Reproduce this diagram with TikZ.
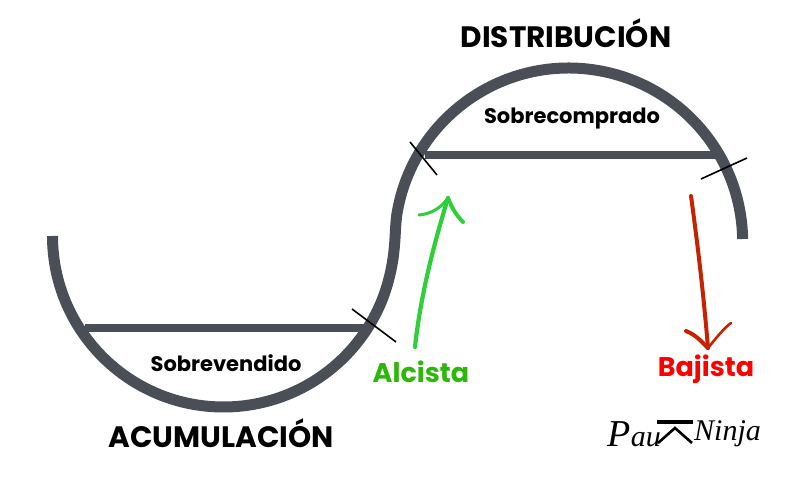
\documentclass[tikz,border=0pt]{standalone}
\usepackage{fontspec}
\setmainfont{Poppins}
\newfontfamily\logofont{Liberation Serif}
\definecolor{slatec}{HTML}{4A4F57}
\definecolor{upg}{HTML}{2FCF3A}
\definecolor{upl}{HTML}{2DB70A}
\definecolor{dnr}{HTML}{C42200}
\tikzset{
  wave/.style={draw=slatec,line width=11pt},
  bar/.style={draw=slatec,line width=8.5pt},
  tick/.style={draw=black,line width=1.6pt},
  upa/.style={draw=upg,line width=4.2pt,line cap=round,line join=round},
  dna/.style={draw=dnr,line width=4pt,line cap=round,line join=round},
  big/.style={font=\fontsize{29.5}{34}\selectfont\bfseries,text=black,inner sep=0pt},
  mid/.style={font=\fontsize{21}{25}\selectfont\bfseries,text=black,inner sep=0pt},
  sig/.style={font=\fontsize{27}{32}\selectfont\bfseries,inner sep=0pt},
  logot/.style={font=\logofont\itshape\fontsize{30}{32}\selectfont,text=black,inner sep=0pt}
}
\begin{document}
\begin{tikzpicture}[x=1pt,y=1pt]
\useasboundingbox (0,0) rectangle (800,478);
% y_tikz = 478 - y_image
\draw[bar] (85,150) -- (366,150);
\draw[bar] (425,323) -- (722,323);
\draw[wave] (52.5,242) arc[start angle=180,end angle=340,radius=171]
  .. controls (397,221) and (394,243) .. (396.8,263.2)
  arc[start angle=171,end angle=1,radius=174];
\draw[tick] (352,169) -- (396,136);
\draw[tick] (410,336) -- (437,303);
\draw[tick] (701,299) -- (747,320);
\coordinate (ua) at (415,131);
\coordinate (ub) at (448,280);
\draw[upa] (ua) .. controls (420,178) and (432,228) .. (ub);
\draw[upa,line width=3pt] (419,263) .. controls (431,264) and (441,270) .. (ub);
\draw[upa,line width=4pt] (ub) .. controls (452,270) and (456,263) .. (463,256);
\coordinate (da) at (691,282);
\coordinate (db) at (708,130);
\draw[dna] (da) .. controls (697,238) and (703,190) .. (db);
\draw[dna] (686,147) .. controls (696,143) and (702,136) .. (db);
\draw[dna,line width=2.6pt] (db) .. controls (717,141) and (724,150) .. (731,155);
\node[big] (dist) at (566,445) {DISTRIBUCIÓN};
\node[big] (acum) at (221,45) {ACUMULACIÓN};
\node[mid] (sobrec) at (572,359) {Sobrecomprado};
\node[mid] (sobrev) at (226,115) {Sobrevendido};
\node[sig,text=upl] (alc) at (421,106) {Alcista};
\node[sig,text=red] (baj) at (706,109) {Bajista};
\node[logot,anchor=east] (pau) at (661,44) {{\fontsize{38}{38}\selectfont P}au};
\node[logot,anchor=west] (nin) at (694,44) {Ninja};
\fill[black] (657,58) rectangle (693,54);
\draw[black,line width=2.6pt] (658,35) -- (675,50) -- (692,35);
\end{tikzpicture}
\end{document}
